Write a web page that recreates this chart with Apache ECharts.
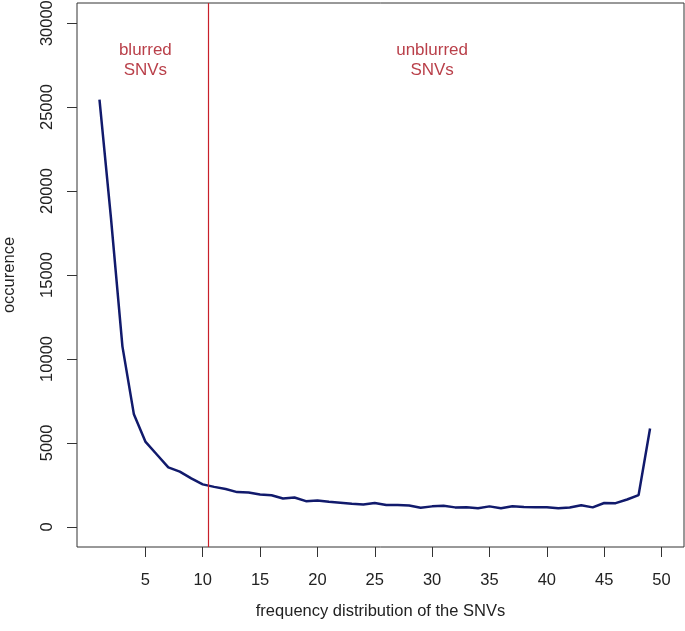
<!DOCTYPE html>
<html>
<head>
<meta charset="utf-8">
<script src="https://cdn.jsdelivr.net/npm/echarts@6/dist/echarts.min.js"></script>
<style>
html,body{margin:0;padding:0;background:#fff;}
#chart{width:685px;height:631px;}
</style>
</head>
<body>
<div id="chart"></div>
<script>
// ---- data ----
const xValues = [1,2,3,4,5,6,7,8,9,10,11,12,13,14,15,16,17,18,19,20,21,22,23,24,25,26,27,28,29,30,31,32,33,34,35,36,37,38,39,40,41,42,43,44,45,46,47,48,49];
const occurrences = [25450,18400,10750,6700,5080,4310,3540,3290,2890,2530,2380,2250,2070,2050,1930,1880,1690,1750,1530,1570,1490,1430,1370,1330,1420,1300,1300,1270,1140,1220,1250,1160,1170,1110,1220,1110,1230,1180,1170,1170,1110,1150,1290,1160,1420,1410,1630,1890,5860];
const xTicks = [5,10,15,20,25,30,35,40,45,50];
const yTicks = [0,5000,10000,15000,20000,25000,30000];
const cutoff = 10.5;
const annotations = [
  {x: 5, y: 27800, text: 'blurred\nSNVs'},
  {x: 30, y: 27800, text: 'unblurred\nSNVs'}
];
const xRange = [-0.96, 51.96];
const yRange = [-1200, 31200];

const font = '"Liberation Sans", Arial, Helvetica, sans-serif';
const red = '#a80f1c';
const chart = echarts.init(document.getElementById('chart'), null, {renderer: 'canvas'});
chart.setOption({
  animation: false,
  backgroundColor: '#fff',
  grid: {left: 77, right: 1, top: 3, bottom: 84, containLabel: false, outerBoundsMode: 'none',
         show: true, borderColor: '#333', borderWidth: 1, backgroundColor: 'transparent'},
  xAxis: {
    type: 'value', min: xRange[0], max: xRange[1],
    name: 'frequency distribution of the SNVs', nameLocation: 'middle', nameGap: 56,
    nameTextStyle: {fontFamily: font, fontSize: 16.5, color: '#222'},
    axisLine: {show: false, onZero: false},
    splitLine: {show: false},
    axisTick: {show: true, inside: false, length: 10, lineStyle: {color: '#333', width: 1}, customValues: xTicks},
    axisLabel: {fontFamily: font, fontSize: 16.5, color: '#222', margin: 25, customValues: xTicks, formatter: v => String(v)}
  },
  yAxis: {
    type: 'value', min: yRange[0], max: yRange[1],
    name: 'occurence', nameLocation: 'middle', nameGap: 59, nameRotate: 90,
    nameTextStyle: {fontFamily: font, fontSize: 16.5, color: '#222'},
    axisLine: {show: false, onZero: false},
    splitLine: {show: false},
    axisTick: {show: true, inside: false, length: 10, lineStyle: {color: '#333', width: 1}, customValues: yTicks},
    axisLabel: {fontFamily: font, fontSize: 16.5, color: '#222', margin: 21, rotate: 90, customValues: yTicks, formatter: v => String(v)}
  },
  series: [
    {
      type: 'line',
      data: xValues.map((x, i) => [x, occurrences[i]]),
      showSymbol: false, symbol: 'none',
      lineStyle: {color: '#111a6c', width: 2.5},
      z: 3,
      markLine: {
        silent: true, symbol: 'none',
        label: {show: false},
        lineStyle: {color: '#c8202a', width: 1.2, type: 'solid'},
        data: [{xAxis: cutoff}]
      }
    },
    {
      type: 'scatter',
      symbolSize: 0,
      data: annotations.map(a => ({value: [a.x, a.y], name: a.text})),
      label: {
        show: true, position: 'inside',
        formatter: p => p.name,
        fontFamily: font, fontSize: 17, lineHeight: 20, color: red, align: 'center', verticalAlign: 'middle'
      },
      z: 4
    }
  ]
});
</script>
</body>
</html>
